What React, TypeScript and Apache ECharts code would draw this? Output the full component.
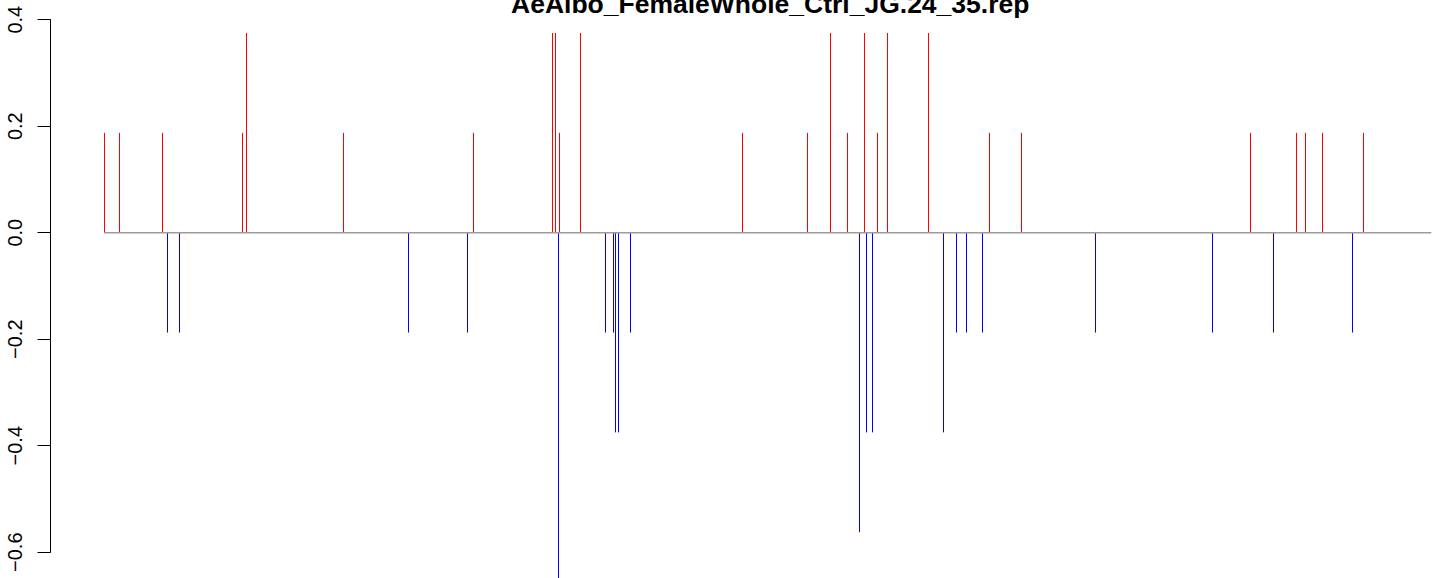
import React, { useEffect, useRef } from "react";
import * as echarts from "echarts";

const chartTitle = "AeAlbo_FemaleWhole_Ctrl_JG.24_35.rep";

// positions along the sequence (estimated) and values of the positive (red) spikes
const upPositions = [0, 15, 58, 138, 142, 239, 369, 448, 451, 455, 476, 638, 703, 726, 743, 760, 773, 783, 824, 885, 917, 1146, 1192, 1201, 1218, 1259];
const upValues = [0.1875, 0.1875, 0.1875, 0.1875, 0.375, 0.1875, 0.1875, 0.375, 0.375, 0.1875, 0.375, 0.1875, 0.1875, 0.375, 0.1875, 0.375, 0.1875, 0.375, 0.375, 0.1875, 0.1875, 0.1875, 0.1875, 0.1875, 0.1875, 0.1875];

// negative (blue) spikes
const downPositions = [63, 75, 304, 363, 454, 501, 509, 511, 514, 526, 755, 762, 768, 839, 852, 862, 878, 991, 1108, 1169, 1248];
const downValues = [-0.1875, -0.1875, -0.1875, -0.1875, -0.75, -0.1875, -0.1875, -0.375, -0.375, -0.1875, -0.5625, -0.375, -0.375, -0.375, -0.1875, -0.1875, -0.1875, -0.1875, -0.1875, -0.1875, -0.1875];

// extent of the zero baseline
const baselineStart = 0;
const baselineEnd = 1327;

const yTicks = [-0.6, -0.4, -0.2, 0.0, 0.2, 0.4];

function spikeRenderer(color: string) {
  return (params: any, api: any) => {
    const x = api.value(0);
    const y = api.value(1);
    const p0 = api.coord([x, 0]);
    const p1 = api.coord([x, y]);
    const cx = Math.round(p0[0]) + 0.5;
    return {
      type: "line",
      shape: { x1: cx, y1: p0[1], x2: cx, y2: p1[1] },
      style: { stroke: color, lineWidth: 1 },
    };
  };
}

export default function App() {
  const ref = useRef<HTMLDivElement>(null);

  useEffect(() => {
    document.body.style.margin = "0";
    document.body.style.overflow = "hidden";
    if (!ref.current) return;
    const chart = echarts.init(ref.current, null, { renderer: "svg" });
    const upData = upPositions.map((p, i) => [p, upValues[i]]);
    const downData = downPositions.map((p, i) => [p, downValues[i]]);
    chart.setOption({
      animation: false,
      backgroundColor: "#ffffff",
      title: {
        text: chartTitle,
        left: 506,
        top: -15,
        textStyle: {
          fontFamily: "Liberation Sans",
          fontWeight: "bold",
          fontSize: 26.5,
          color: "#000000",
        },
      },
      grid: {
        left: 50.5,
        top: 19.7,
        width: 1434,
        height: 532.5,
        containLabel: false,
      },
      xAxis: {
        type: "value",
        min: -53.8,
        max: 1380.2,
        show: false,
      },
      yAxis: {
        type: "value",
        min: yTicks[0],
        max: yTicks[yTicks.length - 1],
        interval: 0.2,
        splitLine: { show: false },
        axisLine: { show: true, onZero: false, lineStyle: { color: "#000000", width: 1 } },
        axisTick: { show: true, length: 13, lineStyle: { color: "#000000", width: 1 } },
        axisLabel: {
          rotate: 90,
          margin: 26,
          fontFamily: "Liberation Sans",
          fontSize: 20,
          color: "#000000",
          formatter: (v: number) => {
            const s = Math.abs(v) < 1e-9 ? "0.0" : v.toFixed(1);
            return s.replace("-", "\u2212");
          },
        },
      },
      series: [
        {
          type: "custom",
          name: "up",
          data: upData,
          clip: false,
          renderItem: spikeRenderer("#ff0000"),
          z: 2,
        },
        {
          type: "custom",
          name: "down",
          data: downData,
          clip: false,
          renderItem: spikeRenderer("#0000ff"),
          z: 2,
        },
        {
          type: "line",
          name: "baseline",
          data: [
            [baselineStart, 0],
            [baselineEnd, 0],
          ],
          symbol: "none",
          lineStyle: { color: "#9c9c9c", width: 1.6 },
          z: 3,
        },
      ],
    });
    return () => chart.dispose();
  }, []);

  return (
    <div
      ref={ref}
      style={{ position: "fixed", left: 0, top: 0, width: 1500, height: 578 }}
    />
  );
}
